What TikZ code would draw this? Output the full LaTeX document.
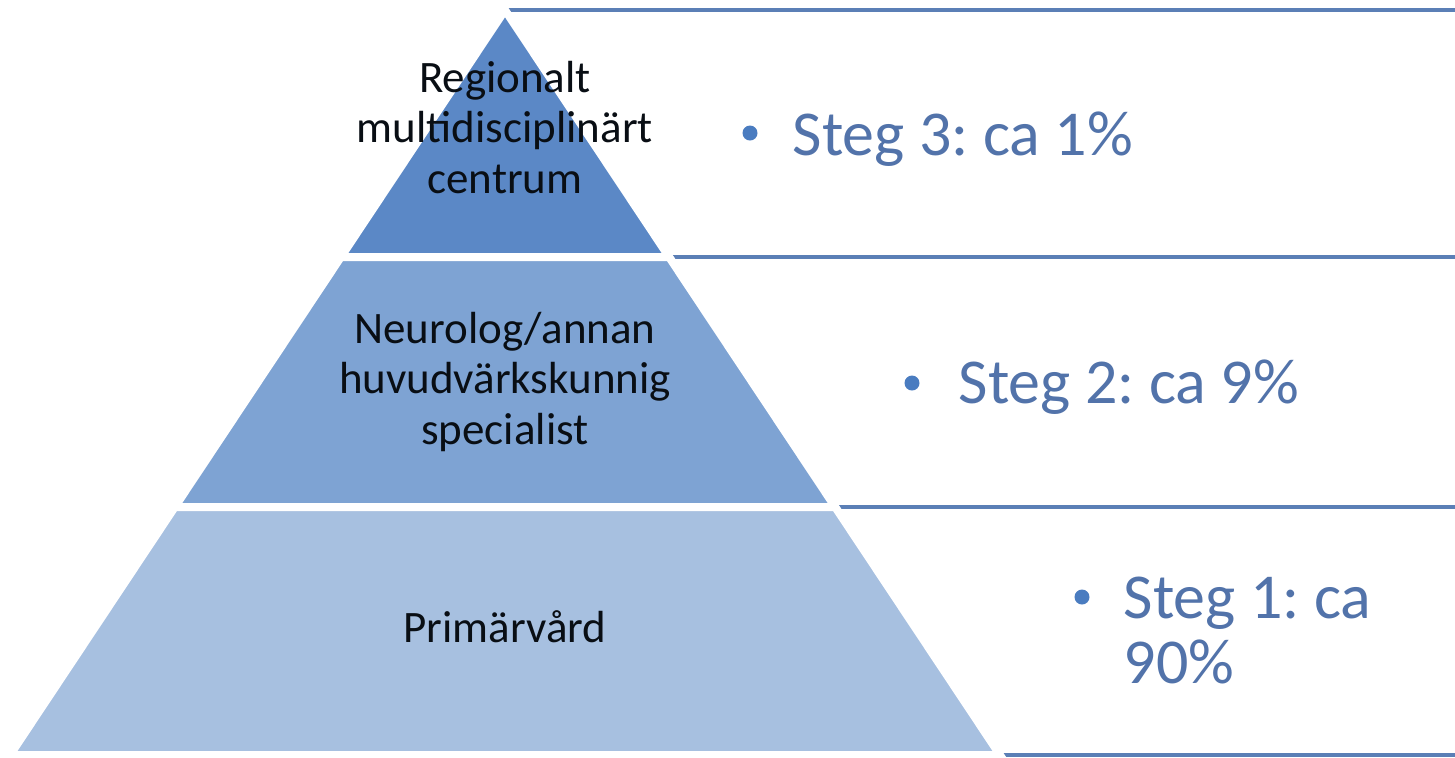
\documentclass[tikz,border=0pt]{standalone}
\usepackage{fontspec}
\setmainfont{Carlito}
\usepackage{tikz}
\usetikzlibrary{
  positioning,
  calc
}
\frenchspacing
\definecolor{pyTop}{HTML}{5B88C6}
\definecolor{pyMid}{HTML}{7EA3D3}
\definecolor{pyLow}{HTML}{A7C0E0}
\definecolor{pyLine}{HTML}{5B7FB6}
\definecolor{pyText}{HTML}{5273AA}
\definecolor{pyBullet}{HTML}{4A7CC0}
\tikzset{
  level/.style={draw=white, line width=0.8mm, line join=miter},
  boxline/.style={draw=pyLine, line width=0.4mm},
  lvltext/.style={
    text width=40mm, align=center, inner sep=0pt, anchor=base,
    font=\fontsize{12.8pt}{14.37pt}\selectfont, text=black!90!pyTop
  },
  steptext/.style={
    inner sep=0pt, anchor=base west,
    font=\fontsize{18.2pt}{16.6pt}\selectfont, text=pyText
  },
  bullet/.style={circle, fill=pyBullet, inner sep=0pt, minimum size=1.5mm}
}

\begin{document}
\begin{tikzpicture}[x=0.1mm, y=-0.1mm]
  \fill[white] (0,0) rectangle (1455,757);
  \useasboundingbox (0,0) rectangle (1455,757);
  % edges of the list boxes, partly hidden by the pyramid
  \foreach \y in {10,257,507,755}{
    \draw[boxline] (505,\y) -- (1455,\y);
  }
  % pyramid levels
  \path[level, fill=pyTop] (505,10) -- (340.9,257) -- (669.1,257) -- cycle;
  \path[level, fill=pyMid] (340.9,257) -- (174.8,507) -- (835.2,507) -- (669.1,257) -- cycle;
  \path[level, fill=pyLow] (174.8,507) -- (10,755) -- (1000,755) -- (835.2,507) -- cycle;

  \node[lvltext] (lvl3) at (505,92) {Regionalt\\multidisciplinärt\\centrum};
  \node[lvltext] (lvl2) at (505,343) {Neurolog/annan\\huvudvärkskunnig\\specialist};
  \node[lvltext] (lvl1) at (505,642) {Primärvård};

  \node[bullet] (dot3) at (750,133) {};
  \node[steptext] (step3) at (792,155) {Steg 3: ca 1\%};
  \node[bullet] (dot2) at (912,383) {};
  \node[steptext] (step2) at (958,403) {Steg 2: ca 9\%};
  \node[bullet] (dot1) at (1082,597) {};
  \node[steptext] (step1) at (1123,618) {Steg 1: ca};
  \node[steptext] (step1b) at (1123,683) {90\%};
\end{tikzpicture}
\end{document}
